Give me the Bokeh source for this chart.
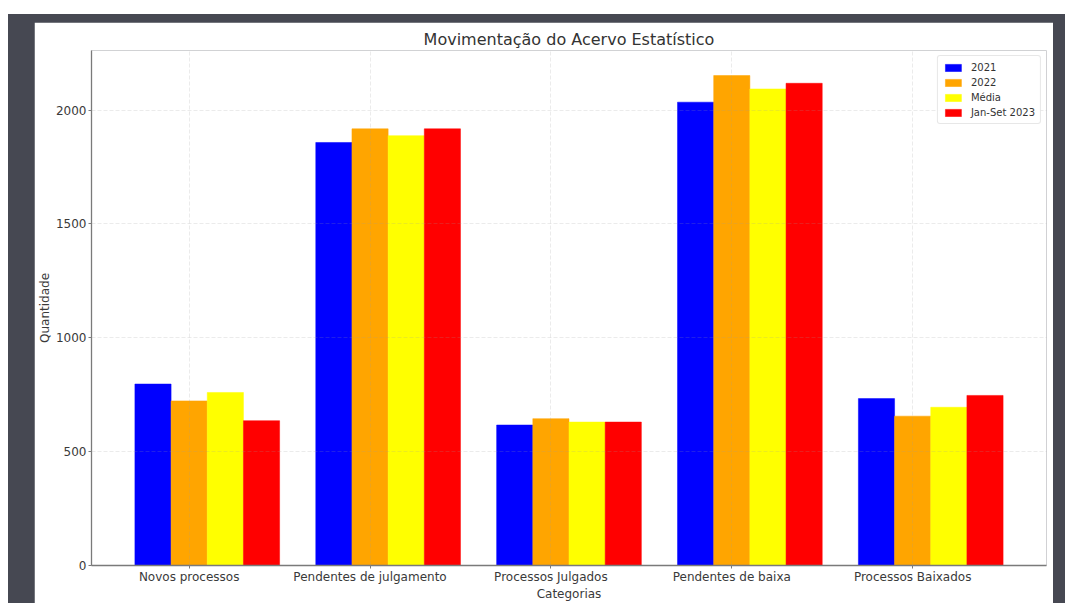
from bokeh.plotting import figure
from bokeh.models import FixedTicker, Legend, LegendItem, Spacer
from bokeh.layouts import column, row
from bokeh.embed import file_html
from bokeh.resources import INLINE

categories = ["Novos processos", "Pendentes de julgamento", "Processos Julgados",
              "Pendentes de baixa", "Processos Baixados"]
series_names = ["2021", "2022", "Média", "Jan-Set 2023"]
values_2021 = [797, 1858, 617, 2035, 733]
values_2022 = [723, 1918, 645, 2152, 656]
values_media = [760, 1888, 630, 2093, 695]
values_2023 = [636, 1918, 630, 2118, 747]
colors = ["#0000ff", "#ffa500", "#ffff00", "#ff0000"]
y_ticks = [0, 500, 1000, 1500, 2000]

FONT = "DejaVu Sans"
bar_w = 0.2

p = figure(width=1019, height=581,
           x_range=(-0.54, 4.74), y_range=(0, 2262),
           output_backend="svg", toolbar_location=None,
           min_border_left=57, min_border_right=7,
           min_border_top=28, min_border_bottom=38,
           margin=(8, 12, 0, 26),
           background_fill_color="white", border_fill_color="white")
p.outline_line_color = None

p.title.text = "Movimentação do Acervo Estatístico"
p.title.text_font = FONT
p.title.text_font_size = "16px"
p.title.text_font_style = "normal"
p.title.text_color = "#333333"
p.title.align = "center"
p.title.standoff = 4

all_vals = [values_2021, values_2022, values_media, values_2023]
items = []
for k, (name, vals, col) in enumerate(zip(series_names, all_vals, colors)):
    xs = [i - bar_w + k * bar_w for i in range(len(categories))]
    r = p.vbar(x=xs, top=vals, width=bar_w, fill_color=col, line_color=col, line_width=0.5)
    items.append(LegendItem(label=name, renderers=[r]))

legend = Legend(items=items, location="top_right")
legend.label_text_font = FONT
legend.label_text_font_size = "10px"
legend.label_text_color = "#333333"
legend.glyph_width = 20
legend.glyph_height = 9
legend.label_height = 12
legend.spacing = 3
legend.padding = 5
legend.margin = 5
legend.label_standoff = 8
legend.border_line_color = "#d0d0d0"
legend.border_line_width = 1
legend.border_radius = 3
legend.background_fill_alpha = 0.9
p.add_layout(legend)

# axes
p.xaxis.ticker = FixedTicker(ticks=list(range(len(categories))))
p.xaxis.major_label_overrides = {i: c for i, c in enumerate(categories)}
p.yaxis.ticker = FixedTicker(ticks=y_ticks)
p.xaxis.axis_label = "Categorias"
p.yaxis.axis_label = "Quantidade"

for ax in (p.xaxis, p.yaxis):
    ax.axis_line_color = "#7a7a7a"
    ax.axis_line_width = 1.3
    ax.major_tick_line_color = "#7a7a7a"
    ax.major_tick_out = 3
    ax.major_tick_in = 0
    ax.minor_tick_line_color = None
    ax.major_label_text_font = FONT
    ax.major_label_text_font_size = "12px"
    ax.major_label_text_color = "#3a3a3a"
    ax.axis_label_text_font = FONT
    ax.axis_label_text_font_size = "12px"
    ax.axis_label_text_font_style = "normal"
    ax.axis_label_text_color = "#3a3a3a"
    ax.major_label_standoff = 2
    ax.axis_label_standoff = 1

p.xaxis.major_label_standoff = 1
p.xaxis.axis_label_standoff = 0

for g in (p.xgrid, p.ygrid):
    g.grid_line_color = "#999999"
    g.grid_line_alpha = 0.2
    g.grid_line_dash = "4 2"
    g.level = "overlay"
p.xgrid.ticker = p.xaxis.ticker
p.ygrid.ticker = p.yaxis.ticker

inner = column(p, width=1057, height=589, styles={"background-color": "#464852"})
right_part = column(Spacer(width=1057, height=14), inner, width=1057, height=603)
layout = row(Spacer(width=8, height=603), right_part, width=1065, height=603)

open("out.html", "w").write(file_html(layout, INLINE))
